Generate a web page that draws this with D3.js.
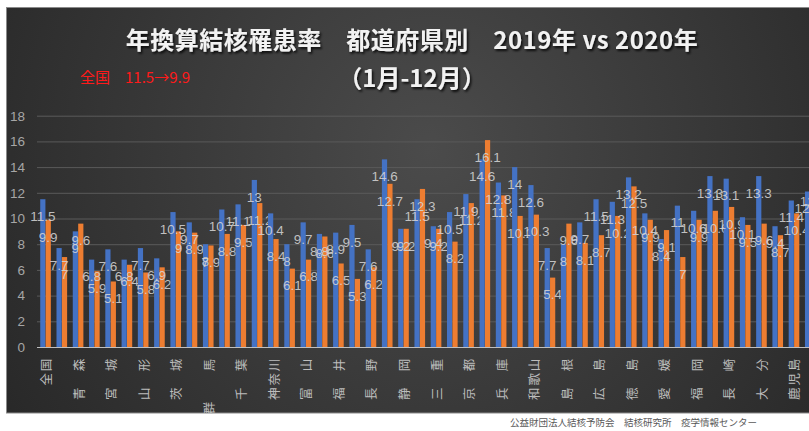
<!DOCTYPE html>
<html><head><meta charset="utf-8">
<script src="https://cdn.jsdelivr.net/npm/d3@7"></script>
<style>body{margin:0;background:#fff;}svg{display:block}</style>
</head><body><svg id="c" width="809" height="431"></svg>
<script>
const categories = ["全国","北海道","青森","岩手","宮城","秋田","山形","福島","茨城","栃木","群馬","埼玉","千葉","東京","神奈川","新潟","富山","石川","福井","山梨","長野","岐阜","静岡","愛知","三重","滋賀","京都","大阪","兵庫","奈良","和歌山","鳥取","島根","岡山","広島","山口","徳島","香川","愛媛","高知","福岡","佐賀","長崎","熊本","大分","宮崎","鹿児島","沖縄"];
const rate2019 = [11.5,7.7,9,6.8,7.6,6.8,7.7,6.9,10.5,9.7,8,10.7,11.1,13,10.4,8,9.7,8.8,8.9,9.5,7.6,14.6,9.2,11.5,9.4,10.5,11.9,14.6,12.8,14,12.6,7.7,8,9.7,11.5,11.3,13.2,10.4,8.4,11,10.6,13.3,13.1,10.1,13.3,9.4,11.4,12.1];
const rate2020 = [9.9,7,9.6,5.9,5.1,6.4,5.8,6.2,9,8.9,7.9,8.8,9.5,11.2,8.4,6.1,6.8,8.6,6.5,5.3,6.2,12.7,9.2,12.3,9.2,8.2,11.2,16.1,11.8,10.2,10.3,5.4,9.6,8.1,8.7,10.2,12.5,9.9,9.1,7,9.9,10.6,10.9,9.5,9.6,8.7,10.4,12.7];
const seriesNames = ["2019年","2020年"];
const seriesColors = ["#4472C4","#ED7D31"];
const yTicks = [0,2,4,6,8,10,12,14,16,18];
const xTickCategories = ["全国","青森","宮城","山形","茨城","群馬","千葉","神奈川","富山","福井","長野","静岡","三重","京都","兵庫","和歌山","島根","広島","徳島","愛媛","福岡","長崎","大分","鹿児島"];
const xTickLabels = ["全国","青　森","宮　城","山　形","茨　城","群　　馬","千　葉","神奈川","富　山","福　井","長　野","静　岡","三　重","京　都","兵　庫","和歌山","島　根","広　島","徳　島","愛　媛","福　岡","長　崎","大　分","鹿児島"];
const titleText = "年換算結核罹患率　都道府県別　2019年 vs 2020年";
const subtitleText = "（1月-12月）";
const noteText = "全国　11.5→9.9";
const footerText = "公益財団法人結核予防会　結核研究所　疫学情報センター";

const svg = d3.select("#c");
const defs = svg.append("defs");
const rg = defs.append("radialGradient").attr("id","bg").attr("gradientUnits","userSpaceOnUse")
  .attr("cx",430).attr("cy",150).attr("r",520);
rg.append("stop").attr("offset","0").attr("stop-color","#4b4b4b");
rg.append("stop").attr("offset","1").attr("stop-color","#272727");
const f = defs.append("filter").attr("id","sh").attr("x","-10%").attr("y","-30%").attr("width","120%").attr("height","160%");
f.append("feDropShadow").attr("dx",1.5).attr("dy",2).attr("stdDeviation",1.2).attr("flood-color","#000").attr("flood-opacity",0.8);

svg.append("rect").attr("x",6.5).attr("y",7.5).attr("width",812).attr("height",405.5)
  .attr("fill","url(#bg)").attr("stroke","#8a8a8a").attr("stroke-width",1);

const y = d3.scaleLinear().domain([0,18]).range([347,115.7]);
const x0 = d3.scaleBand().domain(categories).range([37.4,818.4]).paddingInner(0.32).paddingOuter(0.16);
const x1 = d3.scaleBand().domain(seriesNames).range([0,x0.bandwidth()]).padding(0.04);

// gridlines
svg.append("g").selectAll("line").data(yTicks.filter(d=>d>0)).join("line")
  .attr("x1",37).attr("x2",809).attr("y1",d=>y(d)+0.5).attr("y2",d=>y(d)+0.5)
  .attr("stroke","#5a5a5a").attr("stroke-width",1);

// y axis labels
const yAxis = d3.axisLeft(y).tickValues(yTicks).tickSize(0).tickPadding(0);
const gy = svg.append("g").attr("transform","translate(25,0)").call(yAxis);
gy.select(".domain").remove();
gy.selectAll("text").attr("fill","#a6a6a6").attr("font-size",13.5)
  .attr("font-family","'Liberation Sans','DejaVu Sans',sans-serif");

// bars
const rows = categories.map((c,i)=>({c, vals:[rate2019[i], rate2020[i]]}));
const gBars = svg.append("g");
const groups = gBars.selectAll("g").data(rows).join("g")
  .attr("transform",d=>`translate(${x0(d.c)},0)`);
groups.selectAll("rect").data(d=>d.vals.map((v,k)=>({v,k}))).join("rect")
  .attr("x",d=>x1(seriesNames[d.k])).attr("width",x1.bandwidth())
  .attr("y",d=>y(d.v)).attr("height",d=>y(0)-y(d.v))
  .attr("fill",d=>seriesColors[d.k]);

// axis baseline
svg.append("line").attr("x1",37).attr("x2",809).attr("y1",347.5).attr("y2",347.5)
  .attr("stroke","#bfbfbf").attr("stroke-width",1);

// data labels
groups.selectAll("text").data(d=>d.vals.map((v,k)=>({v,k}))).join("text")
  .attr("x",d=>x1(seriesNames[d.k])+x1.bandwidth()/2)
  .attr("y",d=>y(d.v)+17)
  .attr("dy","0.35em")
  .attr("text-anchor","middle")
  .attr("fill","#d4d4d4").attr("fill-opacity",0.88)
  .attr("font-size",13.5).attr("font-family","'Liberation Sans','DejaVu Sans',sans-serif")
  .text(d=>String(d.v));

// x tick labels (rotated)
const gx = svg.append("g");
gx.selectAll("text").data(xTickCategories.map((c,i)=>({c,label:xTickLabels[i]}))).join("text")
  .attr("transform",d=>`translate(${x0(d.c)+x0.bandwidth()/2+1},357) rotate(-90)`)
  .attr("text-anchor","end").attr("dy","0.36em")
  .attr("fill","#bdbdbd").attr("font-size",12.5).attr("letter-spacing",1.8)
  .attr("font-family","'Noto Sans CJK JP',sans-serif")
  .text(d=>d.label);

// titles
svg.append("text").attr("x",412).attr("y",49).attr("text-anchor","middle")
  .attr("fill","#f2f2f2").attr("font-size",24).attr("font-weight","bold").attr("letter-spacing",0.5)
  .attr("font-family","'Noto Sans CJK JP',sans-serif").attr("filter","url(#sh)")
  .text(titleText);
svg.append("text").attr("x",412).attr("y",87).attr("text-anchor","middle")
  .attr("fill","#f2f2f2").attr("font-size",24).attr("font-weight","bold")
  .attr("font-family","'Noto Sans CJK JP',sans-serif").attr("filter","url(#sh)")
  .text(subtitleText);
svg.append("text").attr("x",80).attr("y",83)
  .attr("fill","#ff1a1a").attr("font-size",15)
  .attr("font-family","'Noto Sans CJK JP',sans-serif")
  .text(noteText);
svg.append("text").attr("x",510).attr("y",426)
  .attr("fill","#595959").attr("font-size",9.5)
  .attr("font-family","'Noto Sans CJK JP',sans-serif")
  .text(footerText);
</script></body></html>
